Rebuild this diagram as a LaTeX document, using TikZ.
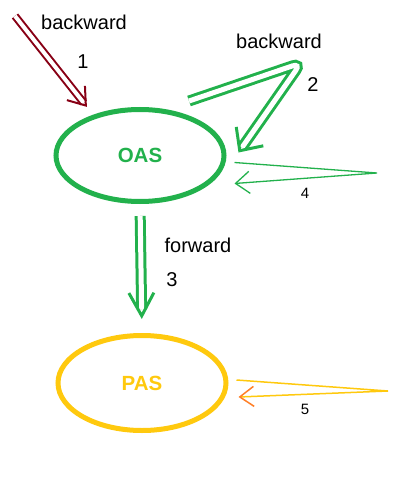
\documentclass[tikz,border=0pt]{standalone}
\usepackage{fontspec}
\setmainfont{Liberation Sans}
\usepackage{tikz}
\usetikzlibrary{arrows.meta,calc,shapes.geometric}
\definecolor{paintgreen}{HTML}{22B14C}
\definecolor{paintred}{HTML}{880015}
\definecolor{paintyellow}{HTML}{FFC90E}
\definecolor{paintorange}{HTML}{FF7F27}

\begin{document}
\begin{tikzpicture}[
  x=1pt, y=-1pt,
  state/.style={ellipse, line width=5pt, minimum width=168pt, minimum height=92pt,
                inner sep=0pt, font=\fontsize{20.5}{24}\selectfont\bfseries},
  lab/.style={font=\fontsize{20}{24}\selectfont, inner sep=0pt},
  num/.style={font=\fontsize{15}{18}\selectfont, inner sep=0pt},
  tiponly/.style={dash pattern=on 0pt off 3000pt},
  railred/.style={draw=paintred, line width=2pt, double=white, double distance=4pt},
  barbred/.style={tiponly, draw=paintred, line width=2pt,
                  -{Straight Barb[length=16pt,width=23pt]}},
  railgreen/.style={draw=paintgreen, line width=3pt, double=white, double distance=5pt},
  barbgreen/.style={tiponly, draw=paintgreen, line width=3pt,
                    -{Straight Barb[length=#1]}},
  loopgreen/.style={draw=paintgreen, line width=1.3pt,
                    -{Straight Barb[length=14pt,width=22pt]}},
  loopyellow/.style={draw=paintyellow, line width=1.5pt,
                     -{Straight Barb[length=14pt,width=20pt,color=paintorange]}},
]
\useasboundingbox (0,0) rectangle (409,492);

\node[state, draw=paintgreen, text=paintgreen] (oas) at (140,155.5) {OAS};
\node[state, draw=paintyellow, text=paintyellow, minimum height=95pt] (pas) at (142,383) {PAS};

\coordinate (in1) at (15,16);
\coordinate (s2)  at (189,101);
\coordinate (k2)  at (301,63);
\coordinate (k4)  at (377,173);
\coordinate (k5)  at (388,391);

\node[lab] (back1) at (84,22)  {backward};
\node[lab] (one)   at (83,62)  {1};
\node[lab] (back2) at (279,41) {backward};
\node[lab] (two)   at (313,85) {2};
\node[lab] (fwd)   at (198,245){forward};
\node[lab] (three) at (172,280){3};
\node[num] (four)  at (305,193){4};
\node[num] (five)  at (305,409){5};

\draw[railred, shorten >=15pt] (in1) -- (oas.139);
\draw[barbred, shorten >=10pt] (in1) -- (oas.139);

\draw[railgreen, rounded corners=9pt, shorten >=6pt]
  (s2) -- (k2) -- ([xshift=12pt,yshift=3pt]oas.east);
\draw[barbgreen={17.5pt,width=33pt}, rounded corners=9pt]
  (s2) -- (k2) -- ([xshift=12pt,yshift=3pt]oas.east);

\draw[railgreen, shorten <=12pt, shorten >=24pt] (oas.south) -- (pas.north);
\draw[barbgreen={23pt,width=25pt}, shorten >=14pt] (oas.south) -- (pas.north);

\draw[loopgreen] ([xshift=8pt,yshift=-7pt]oas.east) -- (k4)
  -- ([xshift=8pt,yshift=-28pt]oas.east);
\draw[loopyellow] ([xshift=8pt,yshift=3pt]pas.east) -- (k5)
  -- ([xshift=10pt,yshift=-14pt]pas.east);
\end{tikzpicture}
\end{document}
